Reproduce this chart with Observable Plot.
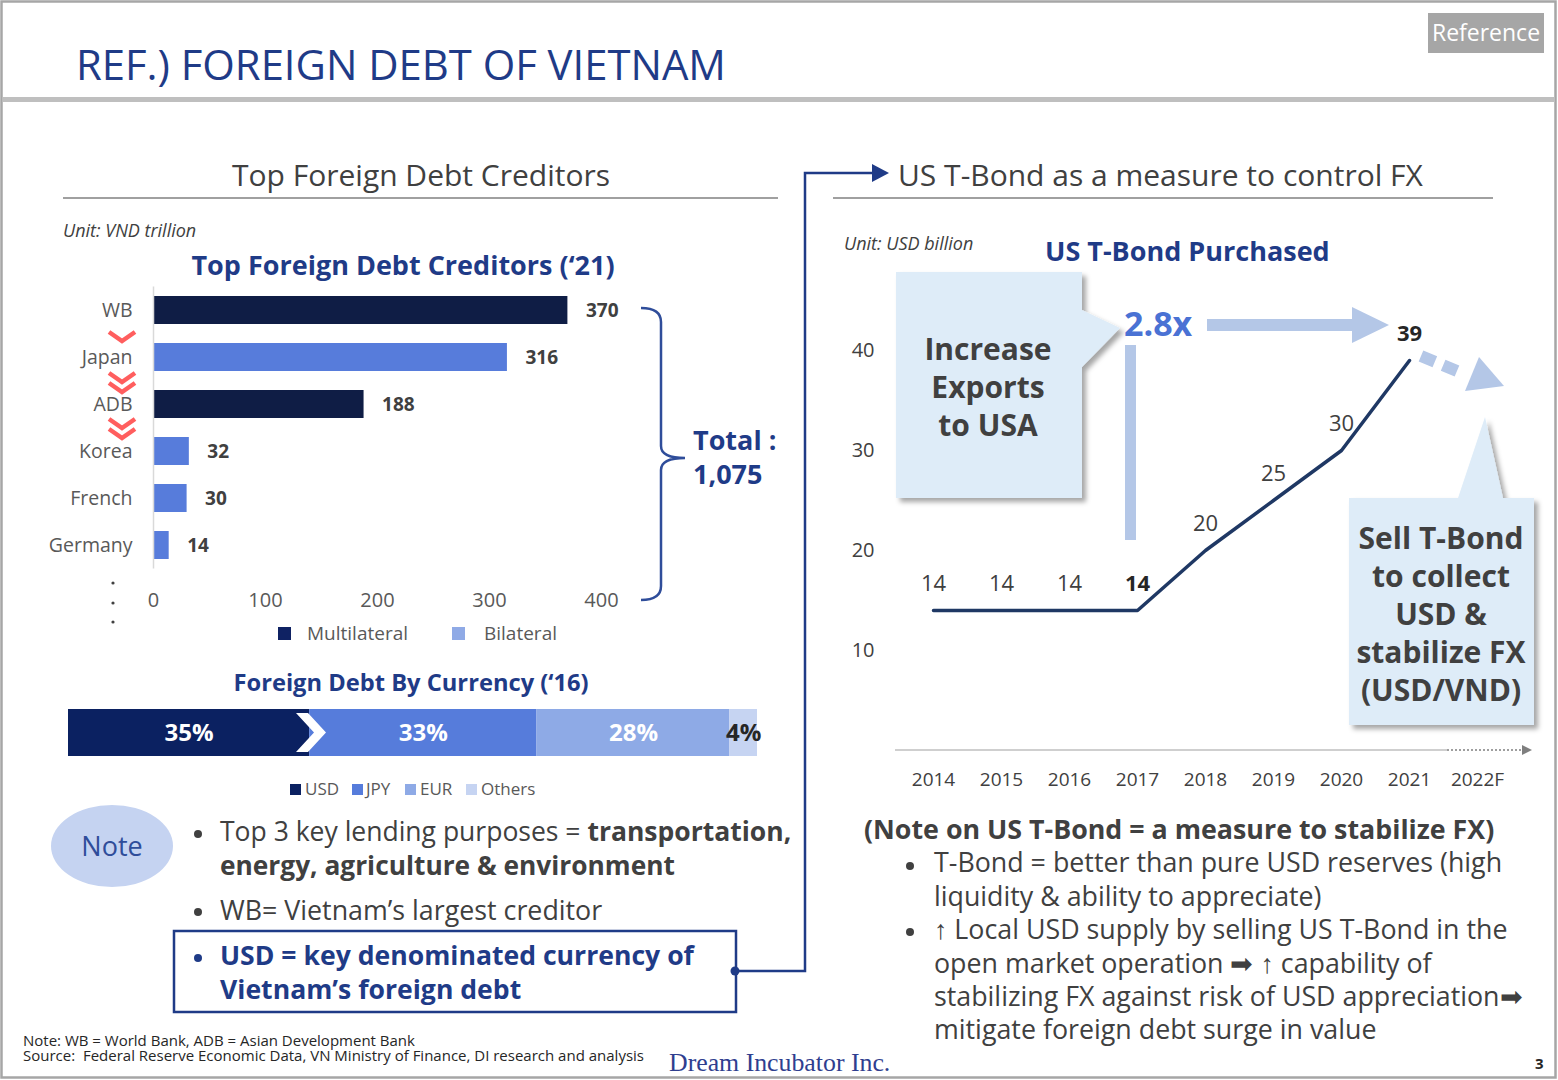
<!DOCTYPE html>
<html><head><meta charset="utf-8">
<script src="https://cdn.jsdelivr.net/npm/d3@7"></script>
<script src="https://cdn.jsdelivr.net/npm/@observablehq/plot@0.6"></script>
<style>
body{margin:0;background:#fff;}
#page{position:relative;width:1558px;height:1080px;overflow:hidden;font-family:"Open Sans",sans-serif;color:#404040;background:#fff;}
.t{position:absolute;white-space:nowrap;line-height:1.2;}
#page svg{position:absolute;overflow:visible;}
</style></head><body><div id="page"></div><script>
// ---------- data ----------
const creditors = ["WB","Japan","ADB","Korea","French","Germany"];
const creditorDebt = [370,316,188,32,30,14];
const creditorKind = ["Multilateral","Bilateral","Multilateral","Bilateral","Bilateral","Bilateral"];
const creditorTicks = [0,100,200,300,400];
const creditorKinds = ["Multilateral","Bilateral"];
const currencies = ["USD","JPY","EUR","Others"];
const currencyShare = [35,33,28,4];
const years = ["2014","2015","2016","2017","2018","2019","2020","2021","2022F"];
const tbondYears = ["2014","2015","2016","2017","2018","2019","2020","2021"];
const tbondValues = [14,14,14,14,20,25,30,39];
const tbondBold = ["2017","2021"];
const tbondTicks = [10,20,30,40];

const NAVY = "#1f3b87";
const page = document.getElementById("page");

function T(html, x, y, o = {}) {
  const d = document.createElement("div");
  d.className = "t";
  d.innerHTML = html;
  d.style.left = x + "px";
  d.style.top = y + "px";
  d.style.fontSize = (o.size || 20) + "px";
  if (o.lh) d.style.lineHeight = o.lh;
  if (o.weight) d.style.fontWeight = o.weight;
  if (o.color) d.style.color = o.color;
  if (o.italic) d.style.fontStyle = "italic";
  if (o.family) d.style.fontFamily = o.family;
  if (o.ls !== undefined) d.style.letterSpacing = o.ls + "px";
  const tx = o.anchor === "middle" ? "-50%" : o.anchor === "end" ? "-100%" : "0";
  d.style.transform = `translate(${tx},-50%)`;
  page.appendChild(d);
  return d;
}
function place(el, x, y) { el.style.left = x + "px"; el.style.top = y + "px"; page.appendChild(el); }

// ---------- decorations (drawn first, underneath) ----------
const deco = `
<svg width="1558" height="1080" style="left:0;top:0" xmlns="http://www.w3.org/2000/svg">
 <defs><filter id="sh" x="-20%" y="-20%" width="150%" height="150%"><feDropShadow dx="4" dy="4" stdDeviation="2.5" flood-color="#000" flood-opacity="0.35"/></filter></defs>
 <rect x="1.5" y="1.5" width="1554" height="1076" fill="none" stroke="#a6a6a6" stroke-width="2.5"/>
 <rect x="3" y="97" width="1552" height="5" fill="#bfbfbf"/>
 <rect x="1428" y="13" width="116" height="40" fill="#a6a6a6"/>
 <line x1="63" y1="198" x2="778" y2="198" stroke="#808080" stroke-width="1.5"/>
 <line x1="833" y1="198" x2="1493" y2="198" stroke="#808080" stroke-width="1.5"/>
 <g fill="none" stroke="#ff5e5e" stroke-width="4.5">
  <polyline points="109,332 122,341 135,332"/>
  <polyline points="109,373 122,382 135,373"/><polyline points="109,383 122,392 135,383"/>
  <polyline points="109,419 122,428 135,419"/><polyline points="109,429 122,438 135,429"/>
 </g>
 <g fill="#404040"><circle cx="113" cy="583" r="1.6"/><circle cx="113" cy="603" r="1.6"/><circle cx="113" cy="622" r="1.6"/></g>
 <path d="M641,308 Q661,308 661,322 L661,446 Q661,458 685,458 Q661,458 661,470 L661,586 Q661,600 641,600" fill="none" stroke="#2f4d9a" stroke-width="2.5"/>
 <rect x="278" y="627" width="13" height="13" fill="#0f2263"/>
 <rect x="452" y="627" width="13" height="13" fill="#8faae6"/>
 <rect x="290" y="784" width="11" height="11" fill="#0b2161"/>
 <rect x="352" y="784" width="11" height="11" fill="#567cdb"/>
 <rect x="405" y="784" width="11" height="11" fill="#8eaae6"/>
 <rect x="466" y="784" width="11" height="11" fill="#c6d4f2"/>
 <ellipse cx="112" cy="846" rx="61" ry="41" fill="#c5d3f1"/>
 <g fill="#404040"><circle cx="198" cy="834" r="4"/><circle cx="198" cy="912" r="4"/><circle cx="910" cy="866" r="4"/><circle cx="910" cy="932" r="4"/></g>
 <circle cx="198" cy="958" r="4" fill="${NAVY}"/>
 <rect x="174" y="931" width="562" height="81" fill="none" stroke="${NAVY}" stroke-width="2.5"/>
 <polyline points="735,971 805,971 805,173 874,173" fill="none" stroke="${NAVY}" stroke-width="2.5"/>
 <circle cx="735" cy="971" r="4.5" fill="${NAVY}"/>
 <polygon points="872,164 889,173 872,182" fill="${NAVY}"/>
 <polygon points="896,272 1082,272 1082,310 1120,328 1082,367 1082,498 896,498" fill="#deecf8" filter="url(#sh)"/>
 <polygon points="1349,498 1458,498 1485,417 1503,498 1534,498 1534,725 1349,725" fill="#deecf8" filter="url(#sh)"/>
 <rect x="1125" y="345" width="11" height="195" fill="#b4c7e7"/>
 <rect x="1207" y="319" width="146" height="12" fill="#b4c7e7"/>
 <polygon points="1352,307 1389,325 1352,343" fill="#b4c7e7"/>
 <line x1="1421" y1="356" x2="1464" y2="374" stroke="#b4c7e7" stroke-width="12" stroke-dasharray="15 9"/>
 <polygon points="1479,357 1504,386 1465,391" fill="#b4c7e7"/>
 <line x1="895" y1="750" x2="1447" y2="750" stroke="#bfbfbf" stroke-width="1.5"/>
 <line x1="1447" y1="750" x2="1522" y2="750" stroke="#7f7f7f" stroke-width="1.5" stroke-dasharray="2 2"/>
 <polygon points="1522,745 1532,750 1522,755" fill="#7f7f7f"/>
</svg>`;
page.insertAdjacentHTML("beforeend", deco);

// ---------- chart 1: top creditors ----------
const credData = creditors.map((c, i) => ({name: c, value: creditorDebt[i], kind: creditorKind[i]}));
const bars = Plot.plot({
  width: 600, height: 340, marginLeft: 113, marginRight: 39, marginTop: 6.5, marginBottom: 51.5,
  style: {fontFamily: "Open Sans", fontSize: "20px", color: "#595959", background: "transparent", overflow: "visible"},
  x: {domain: [0, 400], label: null},
  y: {domain: creditors, paddingInner: 0.4, paddingOuter: 0.2, label: null},
  color: {domain: creditorKinds, range: ["#0f1d45", "#577cdb"]},
  marks: [
    Plot.barX(credData, {y: "name", x: "value", fill: "kind"}),
    Plot.ruleX([0], {stroke: "#d9d9d9", strokeWidth: 1.5}),
    Plot.text(credData, {y: "name", x: "value", text: d => String(d.value), dx: 18, textAnchor: "start", fontWeight: "bold", fill: "#404040", fontSize: 19}),
    Plot.axisX({ticks: creditorTicks, tickSize: 0, tickPadding: 23.5, fill: "#595959", fontSize: 20, label: null}),
    Plot.axisY({tickSize: 0, tickPadding: 21, fill: "#595959", fontSize: 19.5, label: null})
  ]
});
place(bars, 40, 280);

// ---------- chart 2: currency share ----------
const curData = currencies.map((c, i) => ({cur: c, share: currencyShare[i]}));
const cur = Plot.plot({
  width: 720, height: 47, marginLeft: 8, marginRight: 23, marginTop: 0, marginBottom: 0,
  style: {fontFamily: "Open Sans", background: "transparent", overflow: "visible"},
  x: {domain: [0, 100], axis: null},
  color: {domain: currencies, range: ["#0b2161", "#567cdb", "#8eaae6", "#c6d4f2"]},
  marks: [
    Plot.barX(curData, Plot.stackX({x: "share", fill: "cur"})),
    Plot.text(curData.filter(d => d.cur !== "Others"), Plot.stackX({x: "share", text: d => d.share + "%", fill: "#fff", fontWeight: "bold", fontSize: 24})),
    Plot.text(curData, Plot.stackX({x: "share", text: d => d.cur === "Others" ? d.share + "%" : "", fill: "#262626", fontWeight: "bold", fontSize: 24}))
  ]
});
place(cur, 60, 709);
page.insertAdjacentHTML("beforeend", `<svg width="40" height="50" style="left:292px;top:709px"><polygon points="4,4 16,4 34,23.5 16,43 4,43 22,23.5" fill="#fff"/></svg>`);

// ---------- chart 3: US T-Bond ----------
const tbData = tbondYears.map((y, i) => ({year: y, v: tbondValues[i], bold: tbondBold.includes(y)}));
const line = Plot.plot({
  width: 700, height: 500, marginLeft: 89, marginRight: 60, marginTop: 50, marginBottom: 50,
  style: {fontFamily: "Open Sans", fontSize: "20px", color: "#404040", background: "transparent", overflow: "visible"},
  x: {type: "point", domain: years, padding: 0, label: null},
  y: {domain: [0, 40], label: null},
  marks: [
    Plot.line(tbData, {x: "year", y: "v", stroke: "#1f3864", strokeWidth: 3.5}),
    Plot.text(tbData.filter(d => !d.bold), {x: "year", y: "v", text: d => String(d.v), dy: -27, fontSize: 22, fill: "#404040"}),
    Plot.text(tbData.filter(d => d.bold), {x: "year", y: "v", text: d => String(d.v), dy: -27, fontSize: 22, fill: "#262626", fontWeight: "bold"}),
    Plot.axisX({tickSize: 0, tickPadding: 22, fill: "#404040", fontSize: 19, label: null}),
    Plot.axisY({ticks: tbondTicks, tickSize: 0, tickPadding: 55, fill: "#404040", fontSize: 20, label: null})
  ]
});
place(line, 840, 300);

// ---------- text ----------
T("REF.) FOREIGN DEBT OF VIETNAM", 76, 64, {size: 41.8, color: NAVY});
T("Reference", 1486, 33, {size: 23, color: "#fff", anchor: "middle"});
T("Top Foreign Debt Creditors", 421, 175, {size: 30, anchor: "middle"});
T("Unit: VND trillion", 63, 231, {size: 18, italic: true});
T("Top Foreign Debt Creditors (‘21)", 403, 265, {size: 27, weight: 700, color: NAVY, anchor: "middle"});
T("Total :", 693, 440, {size: 27, weight: 700, color: NAVY, lh: 1.1});
T("1,075", 693, 474, {size: 27, weight: 700, color: NAVY, lh: 1.1});
T("Multilateral", 307, 633, {size: 19, color: "#595959"});
T("Bilateral", 484, 633, {size: 19, color: "#595959"});
T("Foreign Debt By Currency (‘16)", 411, 682, {size: 23.7, weight: 700, color: NAVY, anchor: "middle"});
T("USD", 305, 789, {size: 17, color: "#595959"});
T("JPY", 366, 789, {size: 17, color: "#595959"});
T("EUR", 420, 789, {size: 17, color: "#595959"});
T("Others", 481, 789, {size: 17, color: "#595959"});
T("Note", 112, 846, {size: 27, color: "#2f4d9a", anchor: "middle"});
T("Top 3 key lending purposes = <b>transportation,</b>", 220, 832, {size: 26.5, lh: 1.1});
T("<b>energy, agriculture &amp; environment</b>", 220, 865, {size: 26.3, lh: 1.1});
T("WB= Vietnam’s largest creditor", 220, 910, {size: 26.8, lh: 1.1});
T("<b>USD = key denominated currency of</b>", 220, 956, {size: 26.6, color: NAVY, lh: 1.1});
T("<b>Vietnam’s foreign debt</b>", 220, 990, {size: 26.6, color: NAVY, lh: 1.1});
T("Note: WB = World Bank, ADB = Asian Development Bank", 23, 1040, {size: 15, color: "#262626", lh: 1});
T("Source:&nbsp; Federal Reserve Economic Data, VN Ministry of Finance, DI research and analysis", 23, 1055, {size: 15, color: "#262626", lh: 1});
T("Dream Incubator Inc.", 669, 1063, {size: 25.8, color: "#2f3e8f", family: "'Liberation Serif', serif", lh: 1});
T("3", 1535, 1063, {size: 15, color: "#262626", weight: 700, lh: 1});

T("US T-Bond as a measure to control FX", 898, 175, {size: 30});
T("Unit: USD billion", 844, 244, {size: 18, italic: true});
T("US T-Bond Purchased", 1045, 251, {size: 27, weight: 700, color: NAVY});
T("2.8x", 1124, 323, {size: 34, weight: 700, color: "#4a72d4"});
["Increase", "Exports", "to USA"].forEach((s, i) => T(s, 988, 348 + 38 * i, {size: 30, weight: 700, anchor: "middle", lh: 1.1}));
["Sell T-Bond", "to collect", "USD &amp;", "stabilize FX", "(USD/VND)"].forEach((s, i) => T(s, 1441, 537 + 38 * i, {size: 30, weight: 700, anchor: "middle", lh: 1.1}));
T("(Note on US T-Bond = a measure to stabilize FX)", 864, 829, {size: 26.8, weight: 700, lh: 1.1});
T("T-Bond = better than pure USD reserves (high", 934, 862, {size: 26.8, lh: 1.1});
T("liquidity &amp; ability to appreciate)", 934, 896, {size: 26.8, lh: 1.1});
T("↑ Local USD supply by selling US T-Bond in the", 934, 929, {size: 26.8, lh: 1.1});
T("open market operation ➡ ↑ capability of", 934, 963, {size: 26.8, lh: 1.1});
T("stabilizing FX against risk of USD appreciation➡", 934, 996, {size: 26.8, lh: 1.1});
T("mitigate foreign debt surge in value", 934, 1029, {size: 26.8, lh: 1.1});
</script></body></html>
